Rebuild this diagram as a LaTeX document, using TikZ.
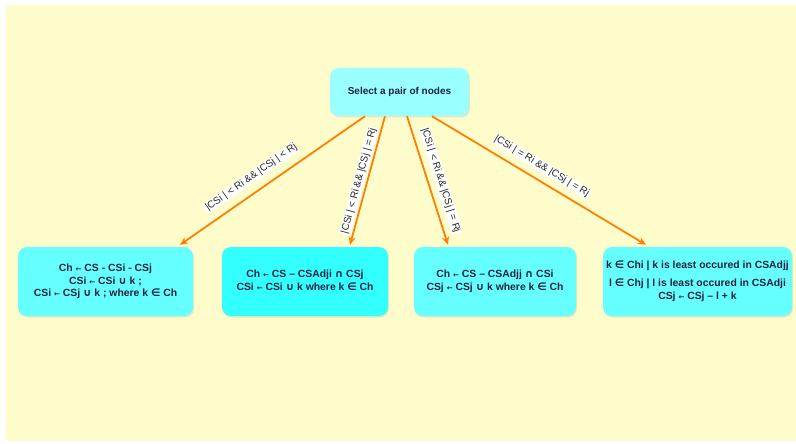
\documentclass[tikz,border=0pt]{standalone}
\usepackage{fontspec}
\setmainfont{Liberation Sans}
\newfontfamily\symf{DejaVu Sans}
\usetikzlibrary{arrows.meta,calc,shadows}
\definecolor{bgy}{HTML}{FFFCCB}
\definecolor{cyA}{HTML}{99FFFF}
\definecolor{cyB}{HTML}{66FFFF}
\definecolor{cyC}{HTML}{33FFFF}
\definecolor{txtc}{HTML}{1C2340}
\definecolor{arr}{HTML}{FF8000}
\newcommand{\larr}{{\symf\fontsize{7}{7}\selectfont ←}}
\newcommand{\cupsym}{{\symf ∪}}
\newcommand{\capsym}{{\symf ∩}}
\newcommand{\elem}{{\symf\bfseries ∈}}
\newcommand{\boxtext}[2][0pt]{\raisebox{#1}{\begin{tabular}{@{}c@{}}#2\end{tabular}}}
\tikzset{
  cbox/.style={rounded corners=9pt, inner sep=0pt, align=center, text=txtc,
    font=\bfseries\fontsize{10.4}{12.5}\selectfont,
    drop shadow={shadow xshift=1pt, shadow yshift=-1.5pt, opacity=0.18}},
  conn/.style={draw=arr, line width=1.8pt, -{Stealth[length=8pt,width=7pt]}},
  lbl/.style={fill=white, inner sep=1pt, text=black!85, sloped,
    font=\fontsize{10}{11}\selectfont}
}
\begin{document}
\begin{tikzpicture}[x=1pt,y=-1pt]
\useasboundingbox (0,0) rectangle (796,444);
\fill[white] (0,0) rectangle (796,444);
\fill[bgy] (6,5) rectangle (796,441);

\node[cbox, fill=cyA, minimum width=139pt, minimum height=48pt,
  font=\bfseries\fontsize{10}{12.5}\selectfont] (top) at (399.5,92)
  {\boxtext[4pt]{Select a pair of nodes}};

\node[cbox, fill=cyB, minimum width=175pt, minimum height=69pt] (b1) at (105.5,281.5)
  {\boxtext[4pt]{Ch \larr\ CS - CSi - CSj\\ CSi \larr\ CSi \cupsym\ k ;\\ CSi \larr\ CSj \cupsym\ k ; where k \elem\ Ch}};
\node[cbox, fill=cyC, minimum width=166pt, minimum height=69pt] (b2) at (305,281.5)
  {\boxtext[3.5pt]{Ch \larr\ CS – CSAdji \capsym\ CSj\\ CSi \larr\ CSi \cupsym\ k where k \elem\ Ch}};
\node[cbox, fill=cyB, minimum width=162pt, minimum height=69pt] (b3) at (495,281.5)
  {\boxtext[4.5pt]{Ch \larr\ CS – CSAdjj \capsym\ CSi\\ CSj \larr\ CSj \cupsym\ k where k \elem\ Ch}};
\node[cbox, fill=cyB, minimum width=189pt, minimum height=69pt] (b4) at (697.5,281.5)
  {\boxtext[4pt]{k \elem\ Chi | k is least occured in CSAdjj\\[5.5pt] l \elem\ Chj | l is least occured in CSAdji\\ CSj \larr\ CSj – l + k}};

\coordinate (s1) at ($(top.south)+(-34.5,0)$);
\coordinate (s2) at ($(top.south)+(-14.5,0)$);
\coordinate (s3) at ($(top.south)+(7.5,0)$);
\coordinate (s4) at ($(top.south)+(32.5,0)$);
\coordinate (e1) at ($(b1.north)+(74.5,-2)$);
\coordinate (e2) at ($(b2.north)+(45,-2)$);
\coordinate (e3) at ($(b3.north)+(-47,-2)$);
\coordinate (e4) at ($(b4.north)+(-51.5,-2)$);

\draw[conn] (s1) -- node[lbl, pos=0.57, above=8pt] {|CSi | < Ri \&\& |CSj | < Rj} (e1);
\draw[conn] (s2) -- node[lbl, pos=0.52, above=1.5pt] {|CSi | < Ri \&\& |CSj | = Rj} (e2);
\draw[conn] (s3) -- node[lbl, pos=0.53, above=6pt] {|CSi | < Ri \&\& |CSj | = Rj} (e3);
\draw[conn] (s4) -- node[lbl, pos=0.48, above=7pt] {|CSi | = Ri \&\& |CSj | = Rj} (e4);
\end{tikzpicture}
\end{document}
